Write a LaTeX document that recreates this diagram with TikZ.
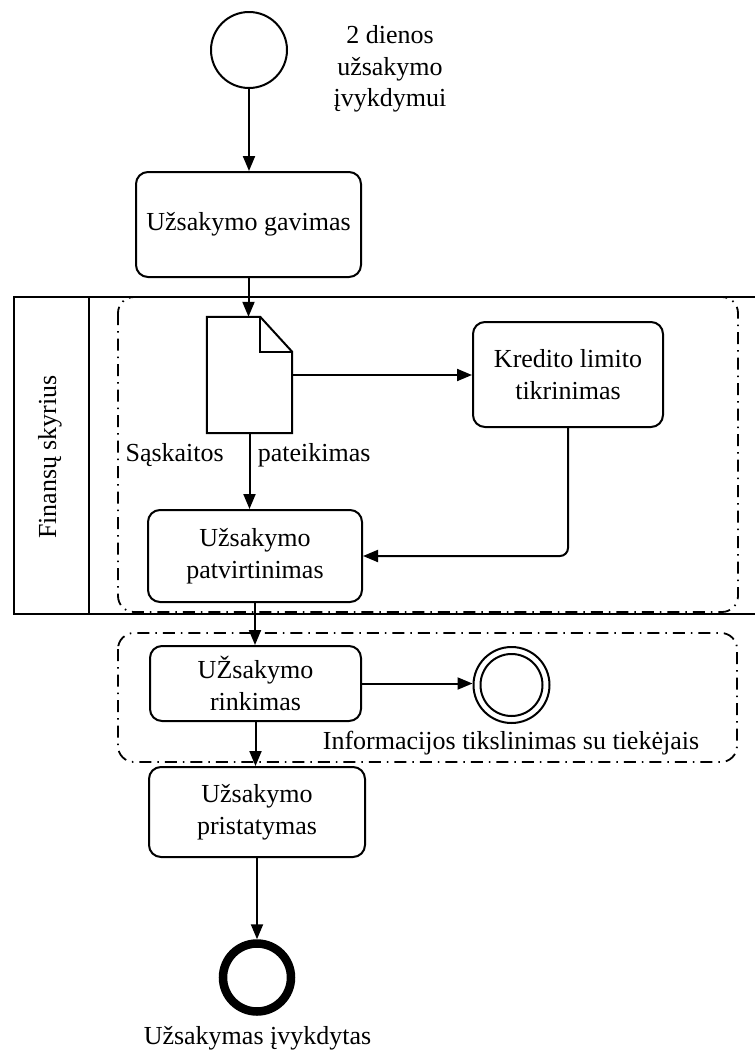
\documentclass[tikz,border=0pt]{standalone}
\usepackage{fontspec}
\setmainfont{Liberation Serif}
\usetikzlibrary{arrows.meta}
\begin{document}
\begin{tikzpicture}[x=1pt,y=-1pt,
  every node/.style={font=\fontsize{26}{31.5}\selectfont},
  task/.style={draw,line width=2pt,rounded corners=12pt,align=center,inner sep=0pt},
  lbl/.style={align=center,inner sep=0pt},
  flow/.style={line width=2pt,-{Triangle[length=15pt,width=12pt]}},
  grp/.style={line width=1.8pt,rounded corners=16pt,dash pattern=on 12pt off 6pt on 1.5pt off 6pt},
  lane/.style={line width=2.2pt}]
\clip (0,0) rectangle (755,1050);
\useasboundingbox (0,0) rectangle (755,1050);

% pool with its single lane
\draw[lane] (14,297) rectangle (770,614);
\draw[lane] (89,297) -- (89,614);
\node[lbl,rotate=90] (lanelbl) at (50,457) {Finansų skyrius};

% groups
\draw[grp] (118,297) rectangle (738,612);
\draw[grp] (118,633) rectangle (737,762);

% events
\node[draw,circle,line width=2pt,minimum size=76pt,inner sep=0pt] (start) at (249,50) {};
\node[lbl] (startlbl) at (390,69) {2 dienos\\užsakymo\\įvykdymui};
\node[draw,circle,line width=2pt,minimum size=76pt,inner sep=0pt] (inter) at (511.5,685) {};
\node[draw,circle,line width=2pt,minimum size=62pt,inner sep=0pt] (interin) at (inter.center) {};
\node[lbl] (interlbl) at (511,743) {Informacijos tikslinimas su tiekėjais};
\node[draw,circle,line width=8.5pt,minimum size=68pt,inner sep=0pt] (end) at (257,977.5) {};
\node[lbl] (endlbl) at (257.5,1038) {Užsakymas įvykdytas};

% tasks
\node[task,minimum width=225pt,minimum height=105pt] (gav) at (248.5,224.5) {Užsakymo gavimas};
\node[task,minimum width=190pt,minimum height=105pt] (kred) at (568,374.5) {Kredito limito\\tikrinimas};
\node[task,minimum width=214pt,minimum height=92pt] (patv) at (255,556) {Užsakymo\\patvirtinimas};
\node[task,minimum width=211pt,minimum height=75pt] (rink) at (255.5,683.5) {UŽsakymo\\rinkimas};
\node[task,minimum width=216pt,minimum height=90pt] (prist) at (257,812) {Užsakymo\\pristatymas};

% document
\node[minimum width=85pt,minimum height=116pt,inner sep=0pt] (doc) at (249.5,375) {};
\draw[line width=2pt,line join=miter]
  (doc.south west) -- (doc.north west) -- ([xshift=-32pt]doc.north east)
  -- ([yshift=-35pt]doc.north east) -- (doc.south east) -- cycle;
\draw[line width=2pt]
  ([xshift=-32pt]doc.north east) -- ([xshift=-32pt,yshift=-35pt]doc.north east)
  -- ([yshift=-35pt]doc.north east);
\node[lbl] (doclbl) at (248,455) {Sąskaitos\hspace{34pt}pateikimas};

% sequence flows
\draw[flow] (start.south) -- (start.south |- gav.north);
\draw[flow] (gav.south) -- (gav.south |- doc.north);
\draw[flow] (doc.east) -- (doc.east -| kred.west);
\draw[flow] (doc.south) -- (doc.south |- patv.north);
\draw[flow,rounded corners=8pt] (kred.south) |- (patv.east);
\draw[flow] (patv.south) -- (patv.south |- rink.north);
\draw[flow] (rink.east) -- (rink.east -| inter.west);
\draw[flow] (rink.south) -- (rink.south |- prist.north);
\draw[flow] (prist.south) -- (end.north);
\end{tikzpicture}
\end{document}
